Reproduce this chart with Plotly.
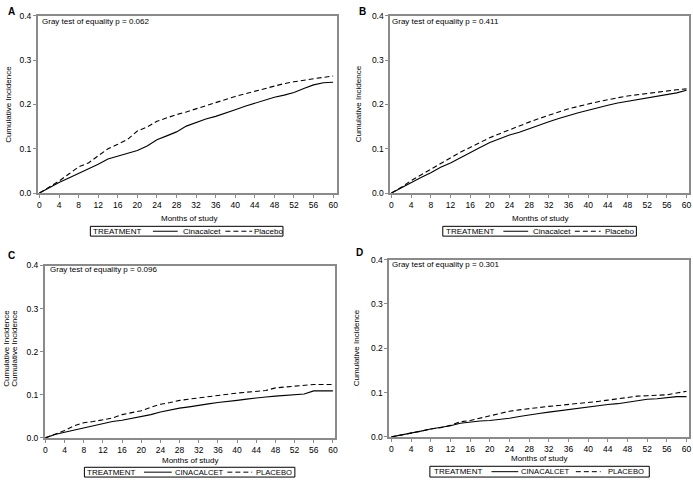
import plotly.graph_objects as go

W, H = 693, 485

months = [0, 2, 4, 6, 8, 10, 12, 14, 16, 18, 20, 22, 24, 26, 28, 30,
          32, 34, 36, 38, 40, 42, 44, 46, 48, 50, 52, 54, 56, 58, 60]

a_cin = [0, 0.012, 0.024, 0.034, 0.044, 0.055, 0.065, 0.077, 0.083, 0.089, 0.096,
         0.106, 0.120, 0.129, 0.138, 0.151, 0.159, 0.167, 0.173, 0.180, 0.188,
         0.196, 0.203, 0.210, 0.216, 0.221, 0.227, 0.236, 0.244, 0.249, 0.250]
a_pla = [0, 0.013, 0.027, 0.043, 0.059, 0.068, 0.083, 0.100, 0.110, 0.121, 0.140,
         0.149, 0.162, 0.170, 0.177, 0.183, 0.190, 0.198, 0.205, 0.212, 0.218,
         0.224, 0.230, 0.236, 0.242, 0.247, 0.251, 0.255, 0.258, 0.261, 0.264]

b_cin = [0, 0.012, 0.024, 0.035, 0.046, 0.058, 0.068, 0.080, 0.092, 0.103, 0.114,
         0.122, 0.131, 0.137, 0.145, 0.154, 0.161, 0.168, 0.175, 0.181, 0.187,
         0.193, 0.198, 0.203, 0.207, 0.211, 0.215, 0.219, 0.222, 0.226, 0.232]
b_pla = [0, 0.013, 0.028, 0.041, 0.054, 0.066, 0.079, 0.092, 0.103, 0.114, 0.125,
         0.134, 0.143, 0.152, 0.160, 0.168, 0.176, 0.183, 0.190, 0.196, 0.201,
         0.206, 0.211, 0.215, 0.219, 0.222, 0.225, 0.228, 0.231, 0.233, 0.235]

c_cin = [0, 0.008, 0.013, 0.018, 0.024, 0.029, 0.033, 0.038, 0.041, 0.045, 0.049,
         0.054, 0.060, 0.065, 0.069, 0.072, 0.076, 0.079, 0.082, 0.084, 0.087,
         0.090, 0.093, 0.095, 0.097, 0.099, 0.100, 0.102, 0.109, 0.109, 0.109]
c_pla = [0, 0.009, 0.017, 0.028, 0.035, 0.038, 0.042, 0.046, 0.054, 0.058, 0.063,
         0.071, 0.078, 0.082, 0.087, 0.090, 0.093, 0.095, 0.098, 0.101, 0.104,
         0.106, 0.108, 0.110, 0.116, 0.118, 0.120, 0.122, 0.124, 0.124, 0.124]

d_cin = [0, 0.004, 0.009, 0.013, 0.018, 0.021, 0.025, 0.031, 0.034, 0.036, 0.037,
         0.039, 0.042, 0.046, 0.050, 0.053, 0.056, 0.059, 0.061, 0.064, 0.068,
         0.071, 0.073, 0.075, 0.078, 0.082, 0.085, 0.086, 0.089, 0.091, 0.091]
d_pla = [0, 0.004, 0.009, 0.013, 0.018, 0.021, 0.026, 0.034, 0.037, 0.042, 0.048,
         0.053, 0.058, 0.061, 0.064, 0.066, 0.069, 0.071, 0.073, 0.075, 0.077,
         0.080, 0.083, 0.086, 0.089, 0.092, 0.093, 0.094, 0.095, 0.099, 0.103]

x_ticks = list(range(0, 61, 4))
y_ticks = [0.0, 0.1, 0.2, 0.3, 0.4]

panel_letters = ["A", "B", "C", "D"]
p_texts = ["Gray test of equality p = 0.062", "Gray test of equality p = 0.411",
           "Gray test of equality p = 0.096", "Gray test of equality p = 0.301"]
legend_groups = [("Cinacalcet", "Placebo"), ("Cinacalcet", "Placebo"),
                 ("CINACALCET", "PLACEBO"), ("CINACALCET", "PLACEBO")]
x_title = "Months of study"
y_title = "Cumulative Incidence"

FONT = "Liberation Sans, Arial, sans-serif"
FRAME = "#8a8a8a"


def px(x):
    return x / W


def py(y):
    return 1 - y / H


# panel geometry in pixels: left, right, top(0.4), bottom(0.0), x range
geo = [
    dict(l=36, r=337, t=11, b=192, xr=[-0.35, 60.7]),
    dict(l=391, r=692, t=11, b=192, xr=[-0.26, 60.5]),
    dict(l=43, r=335, t=266, b=442, xr=[-0.15, 60.35]),
    dict(l=390, r=692, t=260, b=441, xr=[-0.46, 60.5]),
]

series = [(a_cin, a_pla), (b_cin, b_pla), (c_cin, c_pla), (d_cin, d_pla)]

fig = go.Figure()
layout = dict(width=W, height=H, margin=dict(l=0, r=0, t=0, b=0),
              paper_bgcolor="white", plot_bgcolor="white", showlegend=False,
              font=dict(family=FONT, size=8, color="black"))
annotations = []
shapes = []

for i, g in enumerate(geo):
    k = "" if i == 0 else str(i + 1)
    xa, ya = "x" + k, "y" + k
    cin, pla = series[i]
    fig.add_trace(go.Scatter(x=months, y=cin, mode="lines", xaxis=xa, yaxis=ya,
                             line=dict(color="black", width=1.1, dash="solid")))
    fig.add_trace(go.Scatter(x=months, y=pla, mode="lines", xaxis=xa, yaxis=ya,
                             line=dict(color="black", width=1.1, dash="5px,3px")))
    layout["xaxis" + k] = dict(domain=[px(g["l"]), px(g["r"])], range=g["xr"],
                               anchor=ya, tickvals=x_ticks, ticks="outside",
                               ticklen=3, tickcolor=FRAME, showline=True,
                               linecolor=FRAME, linewidth=1.5, mirror=True,
                               showgrid=False, zeroline=False,
                               ticklabeloverflow="allow",
                               tickfont=dict(size=8.5, family=FONT))
    layout["yaxis" + k] = dict(domain=[py(g["b"]), py(g["t"])], range=[0, 0.4],
                               anchor=xa, tickvals=y_ticks, tickformat=".1f",
                               ticks="outside", ticklen=3, tickcolor=FRAME,
                               showline=True, linecolor=FRAME, linewidth=1.5,
                               mirror=True, showgrid=False, zeroline=False,
                               tickfont=dict(size=8.5, family=FONT))


def ann(text, x, y, xanchor="center", size=8, angle=0):
    return dict(text=text, x=px(x), y=py(y), xref="paper", yref="paper",
                showarrow=False, xanchor=xanchor, yanchor="middle",
                borderpad=0, borderwidth=0, textangle=angle,
                font=dict(size=size, family=FONT, color="black"))


# panel letters
letter_pos = [(9.5, 7), (363, 7), (10, 256), (360.5, 253)]
for L, (x, y) in zip(panel_letters, letter_pos):
    annotations.append(ann("<b>%s</b>" % L, x, y, size=10))

# p-value texts
p_pos = [(40, 17), (393, 17), (48, 270), (393, 265)]
for t, (x, y) in zip(p_texts, p_pos):
    annotations.append(ann(t, x, y, xanchor="left"))

# x axis titles
xt_pos = [(188, 218), (542, 218), (189, 465), (541, 463)]
for (x, y) in xt_pos:
    annotations.append(ann(x_title, x, y))

# y axis titles
yt_pos = [(7, 101), (360, 101), (5, 350), (13, 350), (357, 350)]
for (x, y) in yt_pos:
    annotations.append(ann(y_title, x, y, angle=-90))

# legends (custom boxes)
leg = [
    dict(box=(89, 283, 226, 236), tr=92, s=(152, 177), c=182, d=(225, 252), p=254, fs=8),
    dict(box=(444, 639, 226, 236), tr=447, s=(505, 530), c=535, d=(577, 603), p=607, fs=8),
    dict(box=(83, 295, 472, 482), tr=86, s=(143, 171), c=174, d=(227, 252), p=256, fs=7.6),
    dict(box=(431, 652, 471, 482), tr=435, s=(493, 520), c=523, d=(578, 603), p=610, fs=7.6),
]
for (lab_c, lab_p), lg in zip(legend_groups, leg):
    x0, x1, y0, y1 = lg["box"]
    ym = (y0 + y1) / 2
    shapes.append(dict(type="rect", xref="paper", yref="paper", x0=px(x0), x1=px(x1),
                       y0=py(y1), y1=py(y0), line=dict(color="black", width=1)))
    shapes.append(dict(type="line", xref="paper", yref="paper", x0=px(lg["s"][0]),
                       x1=px(lg["s"][1]), y0=py(ym), y1=py(ym),
                       line=dict(color="black", width=1)))
    shapes.append(dict(type="line", xref="paper", yref="paper", x0=px(lg["d"][0]),
                       x1=px(lg["d"][1]), y0=py(ym), y1=py(ym),
                       line=dict(color="black", width=1, dash="5px,3px")))
    annotations.append(ann("TREATMENT", lg["tr"], ym, xanchor="left"))
    annotations.append(ann(lab_c, lg["c"], ym, xanchor="left", size=lg["fs"]))
    annotations.append(ann(lab_p, lg["p"], ym, xanchor="left", size=lg["fs"]))

layout["annotations"] = annotations
layout["shapes"] = shapes
fig.update_layout(**layout)
fig.write_html("out.html", config={"displayModeBar": False},
               post_script="document.body.style.margin='0';document.body.style.overflow='hidden';")
